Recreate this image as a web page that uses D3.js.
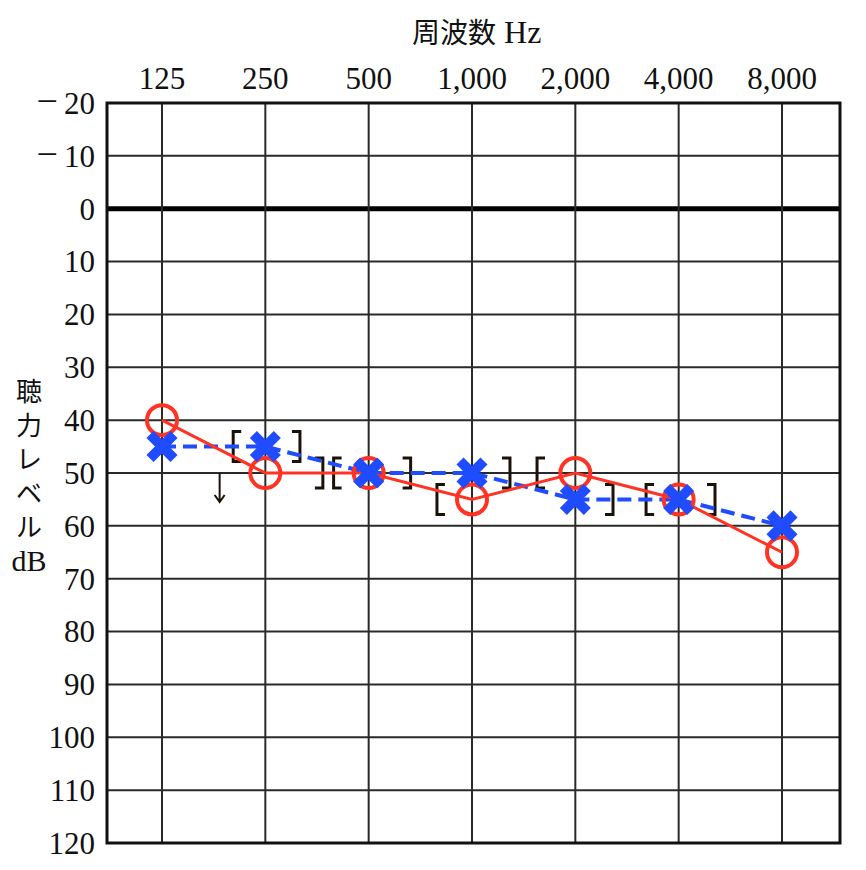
<!DOCTYPE html>
<html>
<head>
<meta charset="utf-8">
<script src="https://cdn.jsdelivr.net/npm/d3@7"></script>
<style>
  body { margin: 0; background: #fff; }
  text { font-family: "Liberation Serif", "Noto Sans CJK JP", serif; fill: #111; }
  .cjk { font-family: "Noto Sans CJK JP", sans-serif; }
</style>
</head>
<body>
<div id="chart"></div>
<script>
// frequencies (Hz) and their labels
const freqs = [125, 250, 500, 1000, 2000, 4000, 8000];
const freqLabels = ["125", "250", "500", "1,000", "2,000", "4,000", "8,000"];
// hearing level ticks (dB)
const dbTicks = d3.range(-20, 121, 10);
// right ear air conduction (O, red)
const rightAir = [40, 50, 50, 55, 50, 55, 65];
// left ear air conduction (X, blue)
const leftAir = [45, 45, 50, 50, 55, 55, 60];
// bone conduction brackets (Hz, dB)
const boneFreq = [207, 307, 358, 406, 645, 812, 1256, 1589, 2507, 3302, 4969];
const boneDb   = [45, 45, 50, 50, 50, 55, 50, 50, 55, 55, 55];
const boneSide = ["[", "]", "]", "[", "]", "[", "]", "[", "]", "[", "]"];
// scale-out arrow
const arrowFreq = [184];
const arrowDb = [50];

const width = 866, height = 870;

const svg = d3.select("#chart")
  .append("svg")
  .attr("width", width)
  .attr("height", height);

const x = d3.scaleLog().base(2).domain([125, 8000]).range([162, 782]);
const y = d3.scaleLinear().domain([-20, 120]).range([103, 843]);

const left = x(125) - 55, right = x(8000) + 58;

// grid
const grid = svg.append("g");
grid.selectAll(".hline")
  .data(dbTicks)
  .join("line")
  .attr("x1", left).attr("x2", right)
  .attr("y1", d => y(d)).attr("y2", d => y(d))
  .attr("stroke", d => d === 0 ? "#000" : "#2a2a2a")
  .attr("stroke-width", d => d === 0 ? 5 : 2);

grid.selectAll(".vline")
  .data(freqs)
  .join("line")
  .attr("x1", d => x(d)).attr("x2", d => x(d))
  .attr("y1", y(-20)).attr("y2", y(120))
  .attr("stroke", "#2a2a2a")
  .attr("stroke-width", 2);

grid.append("rect")
  .attr("x", left).attr("y", y(-20))
  .attr("width", right - left).attr("height", y(120) - y(-20))
  .attr("fill", "none")
  .attr("stroke", "#111")
  .attr("stroke-width", 3);

// axis labels
svg.append("g").selectAll("text")
  .data(freqs)
  .join("text")
  .attr("x", d => x(d))
  .attr("y", 89)
  .attr("text-anchor", "middle")
  .style("font-size", "31px")
  .text((d, i) => freqLabels[i]);

const yLab = svg.append("g").selectAll("text")
  .data(dbTicks)
  .join("text")
  .attr("x", 95)
  .attr("y", d => y(d))
  .attr("dy", "0.35em")
  .attr("text-anchor", "end")
  .style("font-size", "31px");
yLab.filter(d => d < 0).append("tspan")
  .style("font-size", "38px")
  .text("\u2212");
yLab.append("tspan")
  .attr("dx", d => d < 0 ? 6 : 0)
  .text(d => Math.abs(d));

svg.append("text")
  .attr("x", 412)
  .attr("y", 43)
  .style("font-size", "28px")
  .call(t => t.append("tspan").attr("class", "cjk").text("周波数"))
  .call(t => t.append("tspan").attr("dx", 8).style("font-size", "32px").text("Hz"));

const yTitle = ["聴", "力", "レ", "ベ", "ル"];
svg.append("g").selectAll("text")
  .data(yTitle)
  .join("text")
  .attr("class", "cjk")
  .attr("x", 29)
  .attr("y", (d, i) => 401 + i * 34)
  .attr("text-anchor", "middle")
  .style("font-size", "26px")
  .text(d => d);
svg.append("text")
  .attr("x", 29).attr("y", 571)
  .attr("text-anchor", "middle")
  .style("font-size", "30px")
  .text("dB");

// bone conduction brackets
const bh = 15, bw = 8;
svg.append("g").selectAll("path")
  .data(boneFreq)
  .join("path")
  .attr("transform", (d, i) => `translate(${x(d)},${y(boneDb[i])})`)
  .attr("d", (d, i) => boneSide[i] === "["
    ? `M${bw / 2},${-bh}H${-bw / 2}V${bh}H${bw / 2}`
    : `M${-bw / 2},${-bh}H${bw / 2}V${bh}H${-bw / 2}`)
  .attr("fill", "none")
  .attr("stroke", "#1a1208")
  .attr("stroke-width", 3);

// scale-out arrow
svg.append("g").selectAll("path")
  .data(arrowFreq)
  .join("path")
  .attr("transform", (d, i) => `translate(${x(d)},${y(arrowDb[i])})`)
  .attr("d", "M0,0V28M-5,22L0,29L5,22")
  .attr("fill", "none")
  .attr("stroke", "#1a1208")
  .attr("stroke-width", 2);

// lines
const rLine = d3.line().x((d, i) => x(freqs[i])).y(d => y(d));
svg.append("path")
  .datum(leftAir)
  .attr("d", rLine)
  .attr("fill", "none")
  .attr("stroke", "#1f4cff")
  .attr("stroke-width", 4)
  .attr("stroke-dasharray", "14,7");

svg.append("path")
  .datum(rightAir)
  .attr("d", rLine)
  .attr("fill", "none")
  .attr("stroke", "#ff3324")
  .attr("stroke-width", 3);

// markers
svg.append("g").selectAll("circle")
  .data(rightAir)
  .join("circle")
  .attr("cx", (d, i) => x(freqs[i]))
  .attr("cy", d => y(d))
  .attr("r", 15)
  .attr("fill", "none")
  .attr("stroke", "#ff3324")
  .attr("stroke-width", 4);

const xs = 12;
svg.append("g").selectAll("path")
  .data(leftAir)
  .join("path")
  .attr("transform", (d, i) => `translate(${x(freqs[i])},${y(d)})`)
  .attr("d", `M${-xs},${-xs}L${xs},${xs}M${-xs},${xs}L${xs},${-xs}`)
  .attr("stroke", "#1f4cff")
  .attr("stroke-width", 10);
</script>
</body>
</html>
